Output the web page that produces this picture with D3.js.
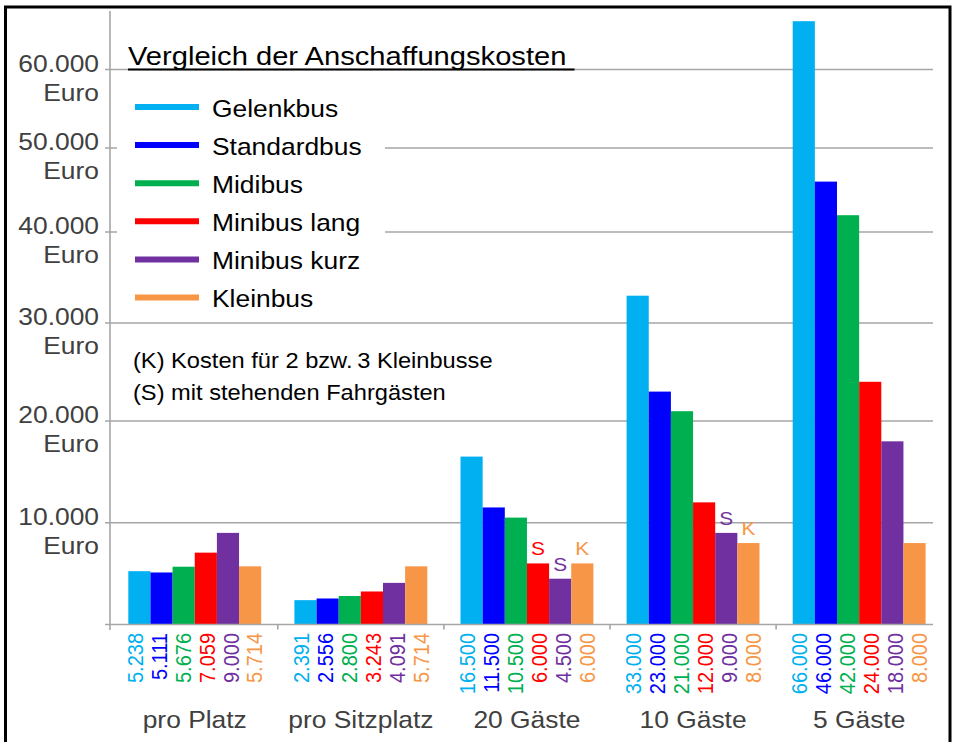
<!DOCTYPE html>
<html>
<head>
<meta charset="utf-8">
<script src="https://cdn.jsdelivr.net/npm/d3@7"></script>
<style>
  body { margin: 0; background: #fff; }
  svg { display: block; }
</style>
</head>
<body>
<svg id="chart" width="955" height="742"></svg>
<script>
// data ------------------------------
const categories = ['pro Platz', 'pro Sitzplatz', '20 Gäste', '10 Gäste', '5 Gäste']
const series = ['Gelenkbus', 'Standardbus', 'Midibus', 'Minibus lang', 'Minibus kurz', 'Kleinbus']
const colors = ['#00b0f0', '#0000ff', '#00b050', '#ff0000', '#7030a0', '#f79646']

const gelenkbus = [5238, 2391, 16500, 33000, 66000]
const standardbus = [5111, 2556, 11500, 23000, 46000]
const midibus = [5676, 2800, 10500, 21000, 42000]
const minibusLang = [7059, 3243, 6000, 12000, 24000]
const minibusKurz = [9000, 4091, 4500, 9000, 18000]
const kleinbus = [5714, 5714, 6000, 8000, 8000]

const yTicks = [10000, 20000, 30000, 40000, 50000, 60000]
const yTickLabels = ['10.000', '20.000', '30.000', '40.000', '50.000', '60.000']

// (S) / (K) marks: category, series, letter
const marks = [
  ['20 Gäste', 'Minibus lang', 'S'],
  ['20 Gäste', 'Minibus kurz', 'S'],
  ['20 Gäste', 'Kleinbus', 'K'],
  ['10 Gäste', 'Minibus kurz', 'S'],
  ['10 Gäste', 'Kleinbus', 'K']
]

const title = 'Vergleich der Anschaffungskosten'
const notes = ['(K) Kosten für 2 bzw.\u20093 Kleinbusse', '(S) mit stehenden Fahrgästen']
const unit = 'Euro'

// ------------------------------
const font = "'Liberation Sans', Arial, sans-serif"
const SX = 1.1 // text in the original is a bit stretched horizontally
const values = [gelenkbus, standardbus, midibus, minibusLang, minibusKurz, kleinbus]
const rows = []
categories.forEach((c, ci) => series.forEach((s, si) => rows.push({ c, s, v: values[si][ci], col: colors[si] })))
const fmt = (v) => d3.format(',')(v).replace(/,/g, '.')

const svg = d3.select('#chart')
const left = 110
const right = 933

// the value axis in the original is not quite linear, the upper part is squeezed
const y = d3
  .scaleLinear()
  .domain([0, 10000, 20000, 30000, 40000, 50000, 60000, 70000])
  .range([624.5, 522.7, 421, 323, 232, 148, 69.5, -11])

const x0 = d3.scaleBand().domain(categories).range([111.7, 942.2]).paddingInner(0.2).paddingOuter(0.1)
const x1 = d3.scaleBand().domain(series).range([0, x0.bandwidth()])
const color = d3.scaleOrdinal().domain(series).range(colors)

function stext(parent, x, y, str, size, anchor, fill, rot) {
  return parent
    .append('text')
    .attr('transform', `translate(${x},${y}) scale(${SX},1)` + (rot ? ' rotate(-90)' : ''))
    .attr('text-anchor', anchor)
    .attr('font-family', font)
    .attr('font-size', size)
    .attr('fill', fill)
    .text(str)
}

// frame
svg
  .append('rect')
  .attr('x', 5.5)
  .attr('y', 7)
  .attr('width', 944.5)
  .attr('height', 760)
  .attr('fill', 'none')
  .attr('stroke', '#000')
  .attr('stroke-width', 3)

// gridlines
svg
  .append('g')
  .selectAll('line')
  .data(yTicks)
  .join('line')
  .attr('x1', left - 5)
  .attr('x2', right)
  .attr('y1', (d) => y(d))
  .attr('y2', (d) => y(d))
  .attr('stroke', '#a6a6a6')
  .attr('stroke-width', 1.6)

// y labels
yTicks.forEach((t, i) => {
  stext(svg, 99, y(t) + 2, yTickLabels[i], 24, 'end', '#404040')
  stext(svg, 99, y(t) + 31, unit, 24, 'end', '#404040')
})

// legend box hides the grid behind it
svg.append('rect').attr('x', 117).attr('y', 78).attr('width', 268).attr('height', 234).attr('fill', '#fff')

// title with underline
const tt = stext(svg, 128, 65, title + '\u00a0', 26.5, 'start', '#000')
const tw = tt.node().getComputedTextLength() * SX
svg
  .append('line')
  .attr('x1', 128)
  .attr('x2', 128 + tw)
  .attr('y1', 69.5)
  .attr('y2', 69.5)
  .attr('stroke', '#000')
  .attr('stroke-width', 2)

// legend
const legend = svg.append('g')
series.forEach((s, i) => {
  const ly = 107 + i * 38.1
  legend
    .append('line')
    .attr('x1', 135)
    .attr('x2', 199)
    .attr('y1', ly)
    .attr('y2', ly)
    .attr('stroke', color(s))
    .attr('stroke-width', 6)
  stext(legend, 212, ly + 9.5, s, 24, 'start', '#000')
})

// notes
notes.forEach((n, i) => stext(svg, 133, 368 + i * 32, n, 21.5, 'start', '#000'))

// bars
svg
  .append('g')
  .selectAll('rect')
  .data(rows)
  .join('rect')
  .attr('x', (d) => x0(d.c) + x1(d.s))
  .attr('width', x1.bandwidth())
  .attr('y', (d) => y(d.v))
  .attr('height', (d) => y(0) - y(d.v))
  .attr('fill', (d) => d.col)

// S / K marks above the bars
marks.forEach(([c, s, m]) => {
  const r = rows.find((d) => d.c === c && d.s === s)
  stext(svg, x0(c) + x1(s) + x1.bandwidth() / 2, y(r.v) - 8, m, 19, 'middle', r.col)
})

// axes
svg
  .append('line')
  .attr('x1', left)
  .attr('x2', left)
  .attr('y1', 11)
  .attr('y2', 630)
  .attr('stroke', '#a6a6a6')
  .attr('stroke-width', 1.6)
svg
  .append('line')
  .attr('x1', left - 5)
  .attr('x2', right)
  .attr('y1', y(0))
  .attr('y2', y(0))
  .attr('stroke', '#a6a6a6')
  .attr('stroke-width', 1.6)
svg
  .append('g')
  .selectAll('line')
  .data(categories.slice(1))
  .join('line')
  .attr('x1', (d) => x0(d) - (x0.step() * x0.paddingInner()) / 2)
  .attr('x2', (d) => x0(d) - (x0.step() * x0.paddingInner()) / 2)
  .attr('y1', y(0))
  .attr('y2', y(0) + 5)
  .attr('stroke', '#a6a6a6')
  .attr('stroke-width', 1.6)

// value labels, vertical
rows.forEach((d) => {
  const gc = x0(d.c) + x0.bandwidth() / 2
  const bc = x0(d.c) + x1(d.s) + x1.bandwidth() / 2
  const lx = gc + (bc - gc) * 1.08
  stext(svg, lx, 633, fmt(d.v), 20, 'end', d.col, true).attr('dy', '0.36em')
})

// category labels
categories.forEach((c) => stext(svg, x0(c) + x0.bandwidth() / 2, 728, c, 24, 'middle', '#404040'))
</script>
</body>
</html>
